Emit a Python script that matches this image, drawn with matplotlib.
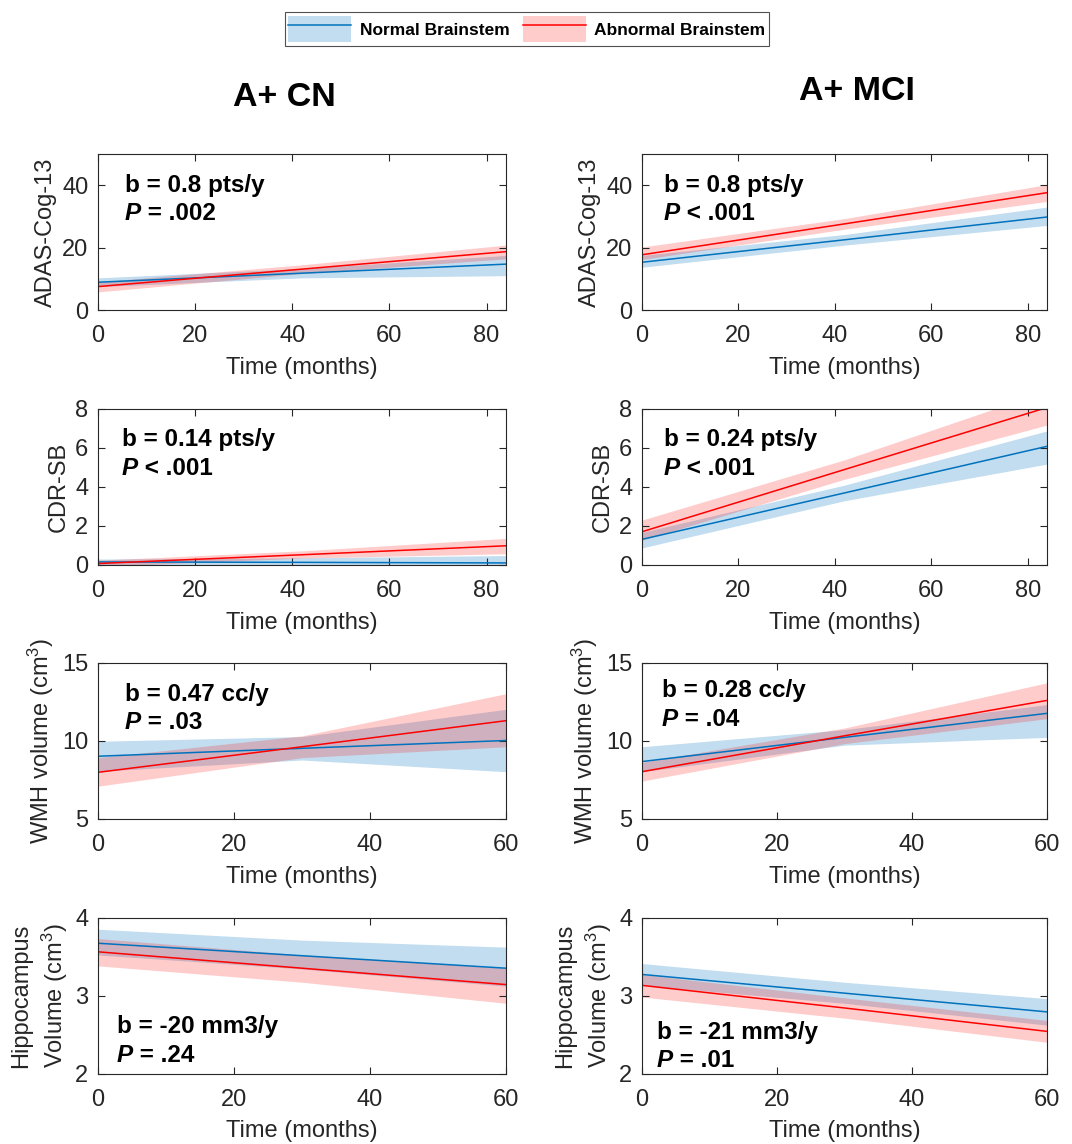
import matplotlib.pyplot as plt
from matplotlib.patches import Patch
from matplotlib.lines import Line2D

plt.rcParams['font.family'] = ['Liberation Sans', 'DejaVu Sans']
plt.rcParams['mathtext.fontset'] = 'custom'
plt.rcParams['mathtext.rm'] = 'Liberation Sans'
plt.rcParams['mathtext.it'] = 'Liberation Sans:italic'
plt.rcParams['mathtext.bf'] = 'Liberation Sans:bold'

# time points (months)
t_long = [0, 42, 84]
t_short = [0, 30, 60]

# ADAS-Cog-13, A+ CN
adas_cn_norm = [8.9, 11.8, 14.7]
adas_cn_norm_lo = [7.5, 10.3, 11.0]
adas_cn_norm_hi = [10.3, 13.3, 17.5]
adas_cn_abn = [7.5, 13.1, 18.7]
adas_cn_abn_lo = [5.8, 11.7, 16.4]
adas_cn_abn_hi = [9.0, 14.5, 20.8]

# ADAS-Cog-13, A+ MCI
adas_mci_norm = [15.3, 22.5, 29.8]
adas_mci_norm_lo = [13.7, 20.8, 27.1]
adas_mci_norm_hi = [17.5, 24.2, 33.0]
adas_mci_abn = [17.7, 27.6, 37.6]
adas_mci_abn_lo = [16.2, 25.9, 34.8]
adas_mci_abn_hi = [20.2, 29.3, 40.2]

# CDR-SB, A+ CN
cdr_cn_norm = [0.13, 0.11, 0.08]
cdr_cn_norm_lo = [-0.05, -0.12, -0.3]
cdr_cn_norm_hi = [0.28, 0.34, 0.46]
cdr_cn_abn = [0.05, 0.5, 0.96]
cdr_cn_abn_lo = [-0.1, 0.33, 0.55]
cdr_cn_abn_hi = [0.22, 0.7, 1.34]

# CDR-SB, A+ MCI
cdr_mci_norm = [1.29, 3.67, 6.06]
cdr_mci_norm_lo = [0.85, 3.27, 5.15]
cdr_mci_norm_hi = [1.65, 4.07, 6.85]
cdr_mci_abn = [1.68, 4.87, 8.05]
cdr_mci_abn_lo = [1.25, 4.37, 7.15]
cdr_mci_abn_hi = [2.28, 5.37, 8.9]

# WMH volume, A+ CN
wmh_cn_norm = [8.99, 9.5, 10.0]
wmh_cn_norm_lo = [8.03, 8.75, 8.0]
wmh_cn_norm_hi = [9.95, 10.25, 12.0]
wmh_cn_abn = [7.96, 9.6, 11.27]
wmh_cn_abn_lo = [7.07, 8.9, 9.6]
wmh_cn_abn_hi = [8.9, 10.3, 13.0]

# WMH volume, A+ MCI
wmh_mci_norm = [8.65, 10.2, 11.74]
wmh_mci_norm_lo = [8.0, 9.7, 10.2]
wmh_mci_norm_hi = [9.6, 10.7, 12.3]
wmh_mci_abn = [8.0, 10.3, 12.57]
wmh_mci_abn_lo = [7.4, 9.8, 11.4]
wmh_mci_abn_hi = [8.6, 10.8, 13.7]

# Hippocampus volume, A+ CN
hip_cn_norm = [3.67, 3.51, 3.35]
hip_cn_norm_lo = [3.52, 3.34, 3.12]
hip_cn_norm_hi = [3.85, 3.71, 3.62]
hip_cn_abn = [3.56, 3.35, 3.14]
hip_cn_abn_lo = [3.38, 3.17, 2.90]
hip_cn_abn_hi = [3.73, 3.52, 3.35]

# Hippocampus volume, A+ MCI
hip_mci_norm = [3.27, 3.03, 2.79]
hip_mci_norm_lo = [3.13, 2.90, 2.62]
hip_mci_norm_hi = [3.41, 3.17, 2.96]
hip_mci_abn = [3.13, 2.84, 2.54]
hip_mci_abn_lo = [2.98, 2.71, 2.40]
hip_mci_abn_hi = [3.27, 2.97, 2.68]

slopes = ['b = 0.8 pts/y', 'b = 0.8 pts/y', 'b = 0.14 pts/y', 'b = 0.24 pts/y',
          'b = 0.47 cc/y', 'b = 0.28 cc/y', 'b = -20 mm3/y', 'b = -21 mm3/y']
pvals = ['= .002', '< .001', '< .001', '< .001', '= .03', '= .04', '= .24', '= .01']
ylabels = ['ADAS-Cog-13', 'CDR-SB', 'WMH volume (cm$^3$)', 'Hippocampus\nVolume (cm$^3$)']
col_titles = ['A+ CN', 'A+ MCI']

panels = [
    (t_long, adas_cn_norm, adas_cn_norm_lo, adas_cn_norm_hi, adas_cn_abn, adas_cn_abn_lo, adas_cn_abn_hi),
    (t_long, adas_mci_norm, adas_mci_norm_lo, adas_mci_norm_hi, adas_mci_abn, adas_mci_abn_lo, adas_mci_abn_hi),
    (t_long, cdr_cn_norm, cdr_cn_norm_lo, cdr_cn_norm_hi, cdr_cn_abn, cdr_cn_abn_lo, cdr_cn_abn_hi),
    (t_long, cdr_mci_norm, cdr_mci_norm_lo, cdr_mci_norm_hi, cdr_mci_abn, cdr_mci_abn_lo, cdr_mci_abn_hi),
    (t_short, wmh_cn_norm, wmh_cn_norm_lo, wmh_cn_norm_hi, wmh_cn_abn, wmh_cn_abn_lo, wmh_cn_abn_hi),
    (t_short, wmh_mci_norm, wmh_mci_norm_lo, wmh_mci_norm_hi, wmh_mci_abn, wmh_mci_abn_lo, wmh_mci_abn_hi),
    (t_short, hip_cn_norm, hip_cn_norm_lo, hip_cn_norm_hi, hip_cn_abn, hip_cn_abn_lo, hip_cn_abn_hi),
    (t_short, hip_mci_norm, hip_mci_norm_lo, hip_mci_norm_hi, hip_mci_abn, hip_mci_abn_lo, hip_mci_abn_hi),
]

ylims = [(0, 50), (0, 8), (5, 15), (2, 4)]
yticks = [[0, 20, 40], [0, 2, 4, 6, 8], [5, 10, 15], [2, 3, 4]]
xlims = [(0, 84), (0, 84), (0, 60), (0, 60)]
xticks = [[0, 20, 40, 60, 80], [0, 20, 40, 60, 80], [0, 20, 40, 60], [0, 20, 40, 60]]

# text placement (axes fraction: left x, baseline y of first line)
txt_x = [0.065, 0.054, 0.058, 0.054, 0.065, 0.049, 0.046, 0.036]
txt_y = [0.757, 0.757, 0.757, 0.757, 0.755, 0.777, 0.259, 0.223]

BLUE = '#0072BD'
RED = '#FF0000'
AXC = '#262626'

fig = plt.figure(figsize=(10.72, 11.44), dpi=100)
W, H = 1072, 1144
col_left = [98, 642]
col_w = [408, 405]
row_bottom = [310, 564.5, 818.5, 1073.5]
ax_h = 156

for i, (t, nm, nlo, nhi, am, alo, ahi) in enumerate(panels):
    r, c = divmod(i, 2)
    ax = fig.add_axes([col_left[c] / W, 1 - row_bottom[r] / H, col_w[c] / W, ax_h / H])
    ax.fill_between(t, nlo, nhi, color=BLUE, alpha=0.24, lw=0)
    ax.plot(t, nm, color=BLUE, lw=1.1)
    ax.fill_between(t, alo, ahi, color=RED, alpha=0.2, lw=0)
    ax.plot(t, am, color=RED, lw=1.1)
    ax.set_xlim(*xlims[r])
    ax.set_ylim(*ylims[r])
    ax.set_xticks(xticks[r])
    ax.set_yticks(yticks[r])
    ax.tick_params(direction='in', length=5, width=0.8, top=True, right=True,
                   labelsize=17, colors=AXC)
    ax.tick_params(axis='x', pad=11)
    ax.tick_params(axis='y', pad=7)
    for s in ax.spines.values():
        s.set_color(AXC)
        s.set_linewidth(0.8)
    ax.set_xlabel('Time (months)', fontsize=17, color=AXC, labelpad=7)
    ax.set_ylabel(ylabels[r], fontsize=17, color=AXC, labelpad=4, linespacing=1.3)

    ax.text(txt_x[i], txt_y[i], slopes[i], transform=ax.transAxes,
            fontsize=17.5, fontweight='bold', va='baseline', ha='left')
    tp = ax.text(txt_x[i], txt_y[i] - 28.5 / ax_h, 'P', transform=ax.transAxes,
                 fontsize=17.5, fontweight='bold', style='italic', va='baseline', ha='left')
    ax.annotate(' ' + pvals[i], xy=(1, 0), xycoords=tp, fontsize=17.5,
                fontweight='bold', va='bottom', ha='left')

fig.text(284 / W, 1 - 97 / H, col_titles[0], fontsize=24.5, fontweight='bold', ha='center', va='center')
fig.text(857 / W, 1 - 92 / H, col_titles[1], fontsize=24.5, fontweight='bold', ha='center', va='center')

handles = [(Patch(facecolor=BLUE, alpha=0.24, lw=0), Line2D([], [], color=BLUE, lw=1.1)),
           (Patch(facecolor=RED, alpha=0.2, lw=0), Line2D([], [], color=RED, lw=1.1))]
leg = fig.legend(handles, ['Normal Brainstem', 'Abnormal Brainstem'], loc='center',
                 bbox_to_anchor=(527 / W, 1 - 29 / H), ncol=2,
                 prop={'weight': 'bold', 'size': 12.5}, frameon=True, fancybox=False,
                 handlelength=3.6, handleheight=2.0, handletextpad=0.5, columnspacing=0.8,
                 borderpad=0.2, borderaxespad=0)
leg.get_frame().set_edgecolor(AXC)
leg.get_frame().set_linewidth(0.8)

fig.savefig('out.png', dpi=100, facecolor='white')
